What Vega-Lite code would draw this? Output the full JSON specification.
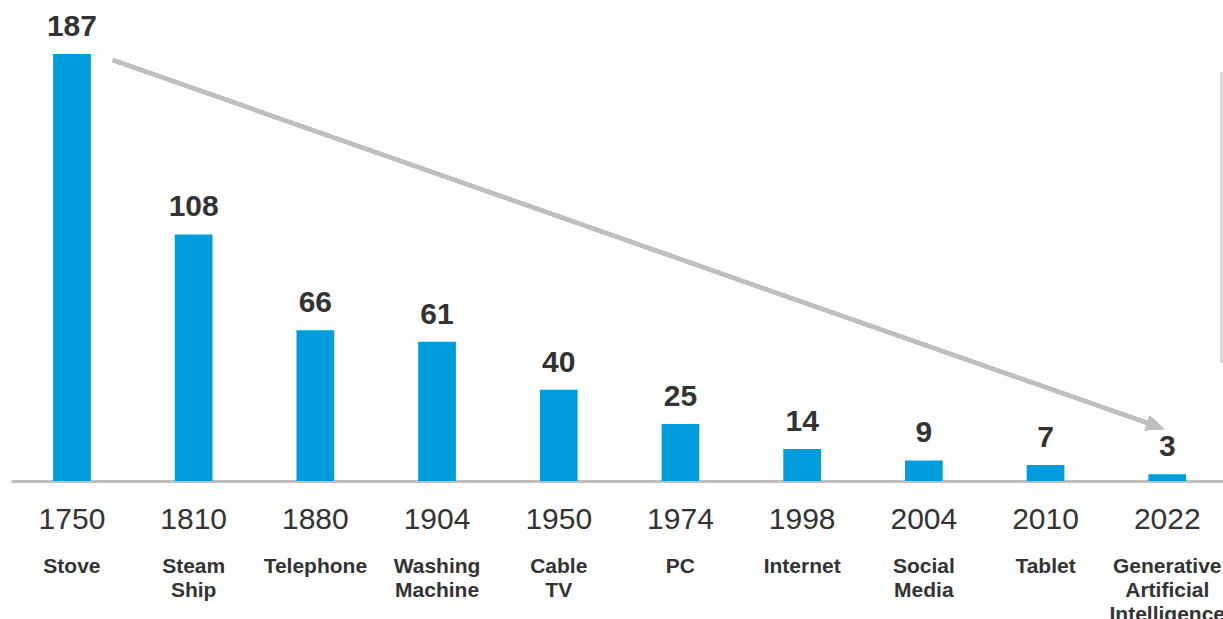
{
  "$schema": "https://vega.github.io/schema/vega-lite/v6.json",
  "autosize": {"type": "none"},
  "width": 1212,
  "height": 481,
  "padding": {"left": 11, "top": 0, "right": 0, "bottom": 138},
  "background": "white",
  "config": {"view": {"stroke": null}, "font": "Liberation Sans"},
  "data": {"values": [
    {"year": "1750", "name": "Stove", "years": 187},
    {"year": "1810", "name": "Steam\nShip", "years": 108},
    {"year": "1880", "name": "Telephone", "years": 66},
    {"year": "1904", "name": "Washing\nMachine", "years": 61},
    {"year": "1950", "name": "Cable\nTV", "years": 40},
    {"year": "1974", "name": "PC", "years": 25},
    {"year": "1998", "name": "Internet", "years": 14},
    {"year": "2004", "name": "Social\nMedia", "years": 9},
    {"year": "2010", "name": "Tablet", "years": 7},
    {"year": "2022", "name": "Generative\nArtificial\nIntelligence", "years": 3}
  ]},
  "encoding": {
    "x": {
      "field": "year", "type": "nominal", "sort": null,
      "scale": {"paddingInner": 0.69, "paddingOuter": 0.3245, "align": 0.533},
      "axis": {
        "title": null, "labelAngle": 0, "ticks": false, "grid": false,
        "domainColor": "#bfbfbf", "domainWidth": 3,
        "labelFontSize": 30, "labelColor": "#333333", "labelFont": "Liberation Sans",
        "labelPadding": 23
      }
    }
  },
  "layer": [
    {
      "mark": {"type": "bar", "color": "#009ddd"},
      "encoding": {
        "y": {"field": "years", "type": "quantitative", "scale": {"domain": [0, 210.7], "nice": false}, "axis": null}
      }
    },
    {
      "mark": {"type": "text", "baseline": "alphabetic", "dy": -18, "fontSize": 30, "fontWeight": "bold", "color": "#333333", "font": "Liberation Sans"},
      "encoding": {
        "y": {"field": "years", "type": "quantitative"},
        "text": {"field": "years", "type": "quantitative"}
      }
    },
    {
      "mark": {"type": "text", "baseline": "alphabetic", "fontSize": 21, "fontWeight": "bold", "color": "#333333", "lineBreak": "\n", "lineHeight": 24, "font": "Liberation Sans"},
      "encoding": {
        "y": {"datum": -40.3},
        "text": {"field": "name", "type": "nominal"}
      }
    },
    {
      "mark": {"type": "rule", "xOffset": 41, "x2Offset": -11.5, "strokeWidth": 4, "color": "#bfbfbf"},
      "encoding": {
        "x": {"datum": "1750"},
        "x2": {"datum": "2022"},
        "y": {"datum": 184.4},
        "y2": {"datum": 24.1}
      }
    },
    {
      "mark": {"type": "point", "shape": "M-1,-0.85L1,0L-1,0.85Z", "size": 324, "angle": 19.35, "filled": true, "color": "#bfbfbf", "opacity": 1, "xOffset": -11.5},
      "encoding": {
        "x": {"datum": "2022"},
        "y": {"datum": 24.1}
      }
    },
    {
      "mark": {"type": "rule", "xOffset": 54.5, "strokeWidth": 3, "color": "#d9d9d9"},
      "encoding": {
        "x": {"datum": "2022"},
        "y": {"datum": 179.1},
        "y2": {"datum": 51.7}
      }
    }
  ]
}
